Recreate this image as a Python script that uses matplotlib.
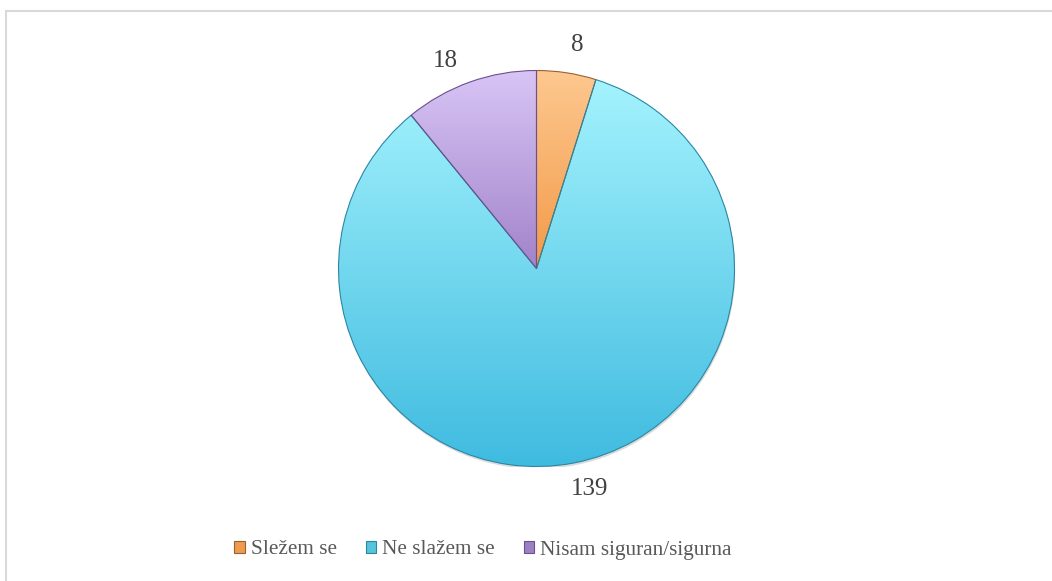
import numpy as np
import matplotlib.pyplot as plt
from matplotlib.colors import LinearSegmentedColormap
from matplotlib.patches import Rectangle, Circle
from matplotlib.lines import Line2D

# Survey answers
labels = ['Sležem se', 'Ne slažem se', 'Nisam siguran/sigurna']
counts = [8, 139, 18]

# Light (top) / dark (bottom) shades for each slice, plus an edge tone
top_cols = ['#fdc890', '#a4f3fd', '#d8c5f5']
bot_cols = ['#f39a48', '#3fbbe0', '#a283ca']
edge_cols = ['#9a6030', '#2a87a3', '#6a5090']
legend_cols = ['#ee9a50', '#55c4dc', '#9d80c2']
# small angular nudges (degrees) for the value labels
label_shift = [-1.5, 2.5, 4.0]

plt.rcParams['font.family'] = ['Liberation Serif', 'DejaVu Serif']

fig = plt.figure(figsize=(10.52, 5.81), dpi=100)
W, H = 1052, 581

# Chart frame (only top and left edges fall inside the image)
fig.add_artist(Line2D([6 / W, 6 / W], [0, 1 - 11 / H], transform=fig.transFigure,
                      color='#d9d9d9', lw=1.5))
fig.add_artist(Line2D([6 / W, 1], [1 - 11 / H, 1 - 11 / H], transform=fig.transFigure,
                      color='#d9d9d9', lw=1.5))

# Pie axes: centre (536.5, 268.5) px, radius 198 px
cx, cy, r = 536.5, 268.5, 198
ax = fig.add_axes([(cx - r) / W, (H - cy - r) / H, 2 * r / W, 2 * r / H])
wedges, texts = ax.pie(counts, labels=[str(c) for c in counts], startangle=90,
                       counterclock=False, radius=1, labeldistance=1.14,
                       wedgeprops=dict(linewidth=0.8),
                       textprops=dict(fontsize=18, color='#404040'))

# soft shadow under the pie
ax.add_patch(Circle((0.004, -0.012), 1.0, facecolor='#bdbdbd', edgecolor='none',
                    alpha=0.55, zorder=1))

for w, t, dth in zip(wedges, texts, label_shift):
    mid = np.deg2rad((w.theta1 + w.theta2) / 2 + dth)
    t.set_position((1.145 * np.cos(mid), 1.145 * np.sin(mid)))
    t.set_ha('center')
    t.set_va('center')

grad = np.linspace(1, 0, 256).reshape(-1, 1)
for w, c_top, c_bot, c_edge in zip(wedges, top_cols, bot_cols, edge_cols):
    w.set_facecolor('none')
    w.set_edgecolor(c_edge)
    w.set_zorder(3)
    # gradient runs over each slice's own vertical extent
    verts = w.get_path().vertices
    y0, y1 = verts[:, 1].min(), verts[:, 1].max()
    cmap = LinearSegmentedColormap.from_list('g', [c_bot, c_top])
    im = ax.imshow(grad, cmap=cmap, extent=[-1, 1, y0, y1], aspect='auto',
                   origin='upper', zorder=2, vmin=0, vmax=1)
    im.set_clip_path(w)

ax.set_xlim(-1, 1)
ax.set_ylim(-1, 1)
ax.set_aspect('equal')
ax.axis('off')

# Legend with small shaded squares
handles = [Rectangle((0, 0), 1, 1, facecolor=c, edgecolor=e, lw=0.8)
           for c, e in zip(legend_cols, edge_cols)]
fig.legend(handles, labels, loc='center', bbox_to_anchor=(483 / W, 1 - 550 / H),
           ncol=3, frameon=False, fontsize=15.3, handlelength=0.48, handleheight=0.48,
           handletextpad=0.3, columnspacing=1.35, labelcolor='#595959')

fig.savefig('out.png', dpi=100)
